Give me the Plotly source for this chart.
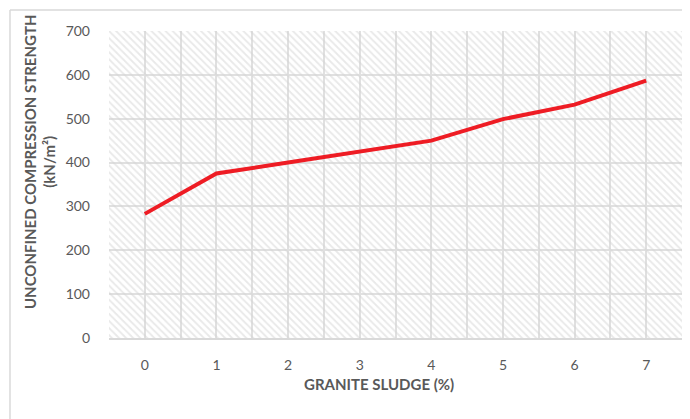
import plotly.graph_objects as go

granite_sludge = [0, 1, 2, 3, 4, 5, 6, 7]
ucs_values = [283, 375, 400, 425, 450, 499, 532, 587]
y_ticks = [0, 100, 200, 300, 400, 500, 600, 700]

X_RANGE = [-0.5, 7.5]
Y_RANGE = [0, 700]

FONT = "Lato"
GREY = "#595959"
GRID = "#e0e0e0"

fig = go.Figure()

# hatched plot-area background
fig.add_trace(go.Scatter(
    x=[X_RANGE[0], X_RANGE[1], X_RANGE[1], X_RANGE[0], X_RANGE[0]],
    y=[Y_RANGE[0], Y_RANGE[0], Y_RANGE[1], Y_RANGE[1], Y_RANGE[0]],
    fill="toself", mode="none", hoverinfo="skip", showlegend=False,
    fillcolor="rgba(0,0,0,0)",
    fillpattern=dict(shape="\\", fgcolor="#d4d4d4", bgcolor="rgba(0,0,0,0)",
                     size=5, solidity=0.38),
))

fig.add_trace(go.Scatter(
    x=granite_sludge, y=ucs_values, mode="lines",
    line=dict(color="#ee1c24", width=4), showlegend=False,
))

fig.update_layout(
    width=682, height=411,
    margin=dict(l=101, r=8, t=23, b=81, autoexpand=False),
    paper_bgcolor="white", plot_bgcolor="white",
    font=dict(family=FONT, size=14, color=GREY),
    xaxis=dict(
        range=X_RANGE, tickvals=granite_sludge,
        ticktext=[str(v) for v in granite_sludge],
        showgrid=True, gridcolor=GRID, gridwidth=1.5,
        minor=dict(tickvals=[v + 0.5 for v in [-1] + granite_sludge],
                   showgrid=True, gridcolor=GRID, gridwidth=1.5),
        zeroline=False, showline=True, linecolor="#d9d9d9", linewidth=1.5,
        ticks="", ticklabelstandoff=13, automargin=False,
        tickfont=dict(family=FONT, size=14, color=GREY),
    ),
    yaxis=dict(
        range=Y_RANGE, tickvals=y_ticks,
        showgrid=True, gridcolor=GRID, gridwidth=1.5,
        zeroline=False, showline=False, ticks="", ticklabelstandoff=18,
        automargin=False,
        tickfont=dict(family=FONT, size=14, color=GREY),
    ),
    annotations=[
        dict(text="<b>UNCONFINED COMPRESSION STRENGTH<br>(kN/m²)</b>",
             xref="paper", yref="paper", x=-0.1205, y=0.573,
             xanchor="center", yanchor="middle", textangle=-90,
             showarrow=False, font=dict(family=FONT, size=15, color=GREY)),
        dict(text="<b>GRANITE SLUDGE (%)</b>",
             xref="paper", yref="paper", x=0.4716, y=-0.15,
             xanchor="center", yanchor="middle",
             showarrow=False, font=dict(family=FONT, size=15, color=GREY)),
    ],
    shapes=[
        dict(type="line", xref="paper", yref="paper",
             x0=-0.1728, x1=-0.1728, y0=-0.5, y1=1.068,
             line=dict(color="#d9d9d9", width=1.5)),
        dict(type="line", xref="paper", yref="paper",
             x0=-0.1728, x1=1.2, y0=1.068, y1=1.068,
             line=dict(color="#d9d9d9", width=1.5)),
    ],
)

fig.write_html("out.html")
